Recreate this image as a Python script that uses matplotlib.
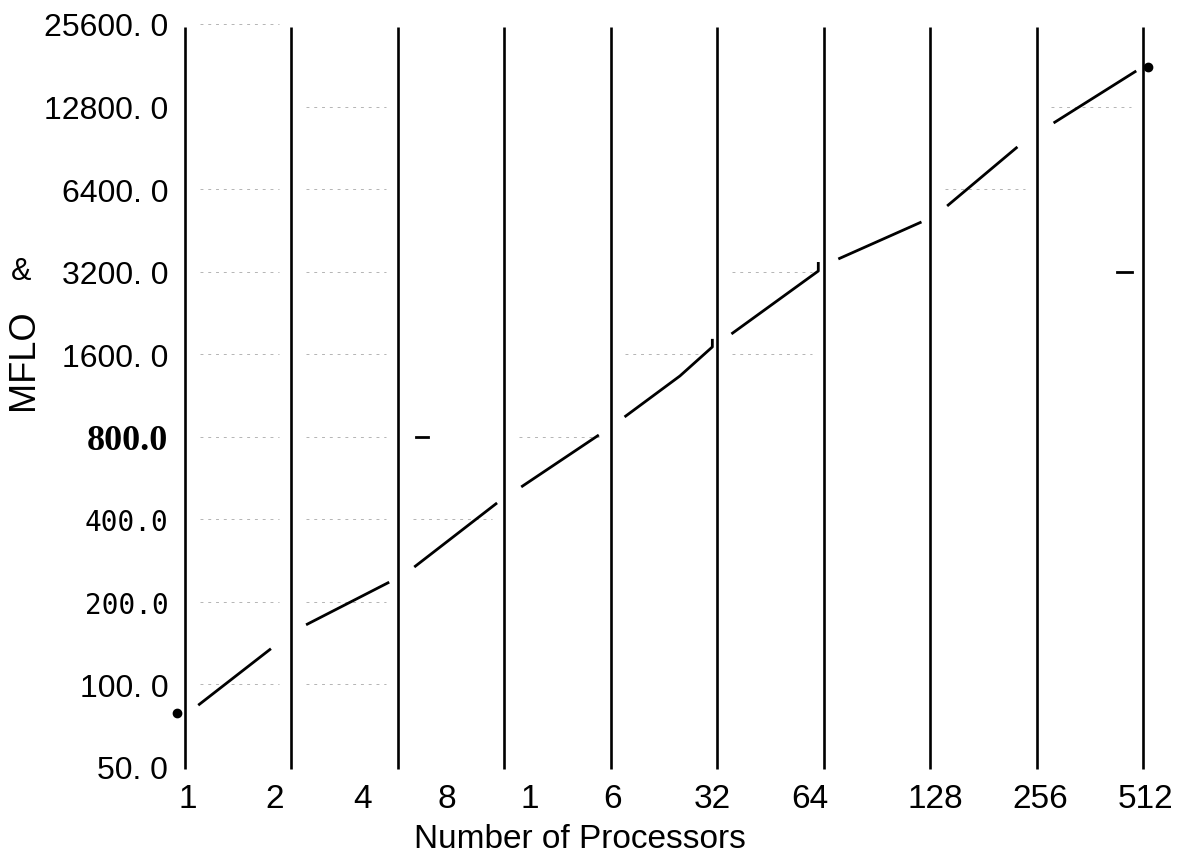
import matplotlib
matplotlib.use("Agg")
import matplotlib.pyplot as plt

NARROW = ["Liberation Sans Narrow", "Liberation Sans", "DejaVu Sans"]
SANS = ["Liberation Sans", "DejaVu Sans"]

# processor counts where the panel dividers sit
dividers = [1, 2, 4, 8, 16, 32, 64, 128, 256, 512]

# measured curve, broken into pieces between the dividers
seg_x = [
    [1.09, 1.75],
    [2.20, 3.78],
    [4.45, 7.63],
    [8.93, 14.8],
    [17.5, 25.1, 31.0, 31.0],
    [35.1, 61.8, 61.8],
    [70.4, 121],
    [143, 226],
    [286, 490],
]
seg_y = [
    [84, 135],
    [165, 236],
    [268, 459],
    [525, 812],
    [945, 1333, 1701, 1820],
    [1897, 3218, 3470],
    [3560, 4857],
    [5555, 9120],
    [11150, 17260],
]

# stray points on the scan
dot_x = [0.95, 530]
dot_y = [79, 17850]
dash_x = [[4.50, 4.87], [433, 478]]
dash_y = [[800, 800], [3200, 3200]]

# faint grid traces left in some panels
ghost_panel = [1, 2, 4, 8, 16, 32, 32, 128, 256]
ghost_levels = [
    [50, 100, 200, 400, 800, 1600, 3200, 6400, 25600],
    [50, 100, 200, 400, 800, 1600, 3200, 6400, 12800],
    [400],
    [800],
    [1600],
    [1600],
    [3200],
    [6400],
    [12800],
]

ytick_vals = [50, 100, 200, 400, 800, 1600, 3200, 6400, 12800, 25600]
ytick_text = ["50. 0", "100. 0", "200.0", "400.0", "800.0", "1600. 0",
              "3200. 0", "6400. 0", "12800. 0", "25600. 0"]

xlabel_text = ["1", "2", "4", "8", "1", "6", "32", "64", "128", "256", "512"]
xlabel_px = [188, 275, 363, 447, 530, 613, 712, 810, 935, 1040, 1145]

W, H = 1177, 862
fig = plt.figure(figsize=(W / 100, H / 100), dpi=100)
ax = fig.add_axes([185 / W, 1 - 768 / H, (1143 - 185) / W, (768 - 25) / H])
ax.set_xscale("log", base=2)
ax.set_yscale("log", base=2)
ax.set_xlim(1, 512)
ax.set_ylim(50, 25600)
for s in ax.spines.values():
    s.set_visible(False)
ax.tick_params(axis="both", length=0)
ax.set_xticks([])
ax.minorticks_off()

ax.vlines(dividers, 49.2, 24950, colors="black", linewidth=1.9, clip_on=False)

for p, levels in zip(ghost_panel, ghost_levels):
    for lv in levels:
        ax.plot([p * 1.1, p * 1.85], [lv, lv], color="#b4b4b4", lw=0.7,
                ls=(0, (3, 5)))

for xs, ys in zip(seg_x, seg_y):
    ax.plot(xs, ys, color="black", lw=2.0, solid_capstyle="butt")

for xs, ys in zip(dash_x, dash_y):
    ax.plot(xs, ys, color="black", lw=2.0)

ax.plot(dot_x, dot_y, "o", color="black", ms=6, ls="none", clip_on=False)

ax.set_yticks(ytick_vals)
ax.set_yticklabels(ytick_text)
ax.tick_params(axis="y", pad=12)
for lab in ax.get_yticklabels():
    t = lab.get_text()
    if t == "800.0":
        lab.set_fontfamily(["Liberation Serif", "DejaVu Serif"])
        lab.set_fontweight("bold")
        lab.set_fontsize(26)
    elif t in ("400.0", "200.0"):
        lab.set_fontfamily(["DejaVu Sans Mono"])
        lab.set_fontsize(20)
    else:
        lab.set_fontfamily(SANS)
        lab.set_fontsize(23)

for t, px in zip(xlabel_text, xlabel_px):
    fig.text(px / W, 1 - 800 / H, t, ha="center", va="center",
             fontsize=24, family=NARROW)

fig.text(580 / W, 1 - 840 / H, "Number of Processors", ha="center",
         va="center", fontsize=24, family=NARROW)
fig.text(24 / W, 1 - 360 / H, "MFLO", rotation=90, ha="center",
         va="center", fontsize=26, family=NARROW)
fig.text(21 / W, 1 - 272 / H, "&", ha="center", va="center",
         fontsize=22, family=SANS)

fig.savefig("out.png", dpi=100, facecolor="white")
